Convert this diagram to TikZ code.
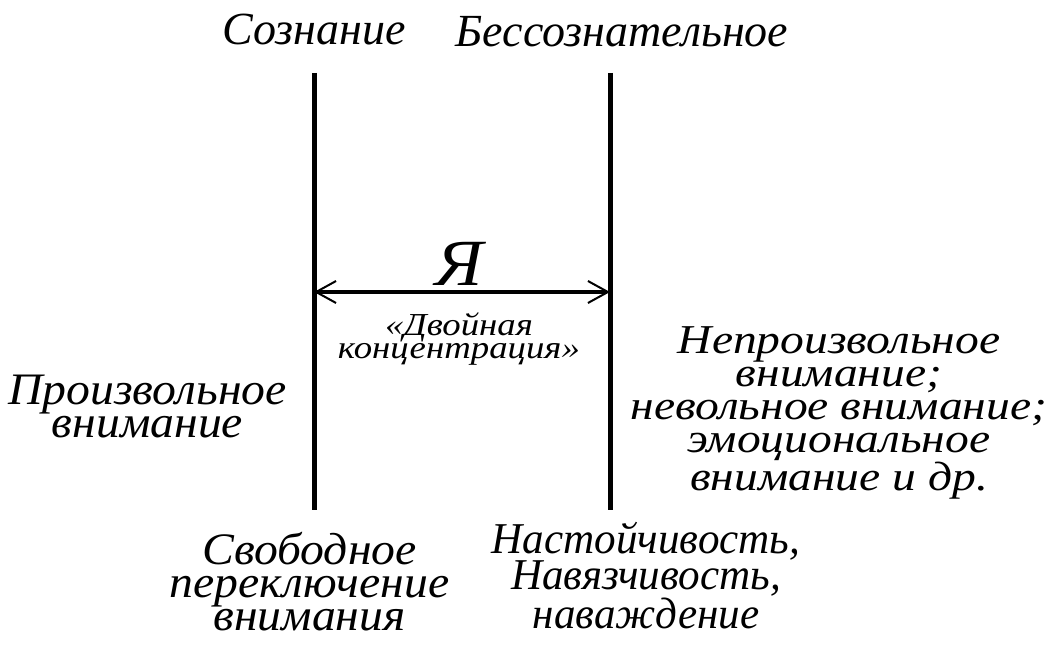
\documentclass[tikz,border=0pt]{standalone}
\usepackage{fontspec}
\setmainfont{Liberation Serif}
\newfontfamily\fleft[FakeStretch=1.06]{Liberation Serif}
\newfontfamily\fbr[FakeStretch=0.98]{Liberation Serif}
\newfontfamily\fright[FakeStretch=1.16]{Liberation Serif}
\newfontfamily\fsmall[FakeStretch=1.15]{Liberation Serif}
\newfontfamily\fya[FakeStretch=1.1]{Liberation Serif}
\usetikzlibrary{arrows.meta}
\tikzset{
  lbl/.style={inner sep=0pt, anchor=base, align=center, font=\fleft\itshape\fontsize{45}{33}\selectfont},
  brlbl/.style={inner sep=0pt, anchor=base, align=center, font=\fbr\itshape\fontsize{44}{32.5}\selectfont},
  rlbl/.style={inner sep=0pt, anchor=base, align=center, font=\fright\itshape\fontsize{41}{33}\selectfont},
  toplbl/.style={inner sep=0pt, anchor=base, font=\itshape\fontsize{46}{46}\selectfont},
  bigY/.style={inner sep=0pt, anchor=base, font=\fya\itshape\fontsize{66}{66}\selectfont},
  small/.style={inner sep=0pt, anchor=base, align=center, font=\fsmall\itshape\fontsize{32}{20}\selectfont},
  wall/.style={line width=5pt},
  span/.style={line width=3pt, {Straight Barb[length=20pt,width=22pt,line width=2pt]}-{Straight Barb[length=20pt,width=22pt,line width=2pt]}}
}
\begin{document}
\begin{tikzpicture}[x=1pt,y=1pt]
\useasboundingbox (0,0) rectangle (1058,-647);
\fill[white] (0,0) rectangle (1058,-647);
\coordinate (lt) at (314,-73);
\coordinate (lb) at (314,-510);
\coordinate (rt) at (610,-73);
\coordinate (rb) at (610,-510);
\coordinate (al) at (314,-292);
\coordinate (ar) at (610,-292);
\draw[wall] (lt) -- (lb);
\draw[wall] (rt) -- (rb);
\draw[span] (al) -- (ar);
\node[toplbl] (soz) at (314,-45) {Сознание};
\node[toplbl] (bes) at (622,-47) {Бессознательное};
\node[bigY] (ya) at (459,-285) {Я};
\node[small] (dk) at (459,-358) {«Двойная\\концентрация»};
\node[lbl] (pv) at (147.5,-437) {Произвольное\\внимание};
\node[rlbl] (npv) at (839,-490) {Непроизвольное\\внимание;\\невольное внимание;\\эмоциональное\\внимание и др.};
\node[lbl] (sp) at (309.5,-630) {Свободное\\переключение\\внимания};
\node[brlbl] (nn) at (646,-628) {Настойчивость,\\Навязчивость,\\наваждение};
\end{tikzpicture}
\end{document}
